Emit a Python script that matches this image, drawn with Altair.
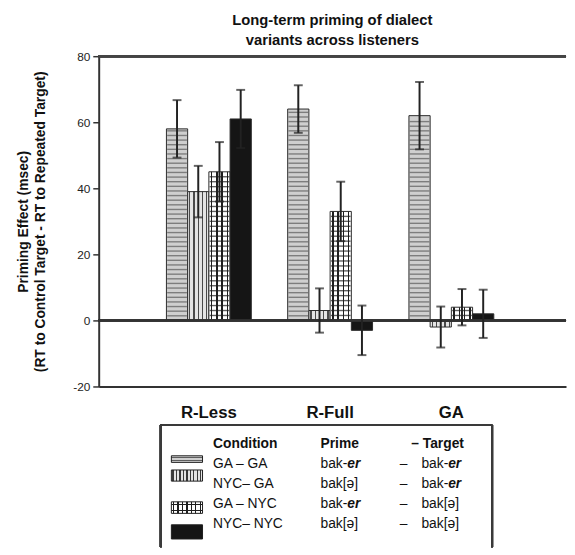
import altair as alt
import pandas as pd
import numpy as np

# ---------------- data ----------------
groups = ["R-Less", "R-Full", "GA"]
conditions = ["GA – GA", "NYC– GA", "GA – NYC", "NYC– NYC"]
primes = ["bak-er", "bak[ə]", "bak-er", "bak[ə]"]
targets = ["bak-er", "bak-er", "bak[ə]", "bak[ə]"]

effect_rless = [58, 39, 45, 61]
effect_rfull = [64, 3, 33, -3]
effect_ga = [62, -2, 4, 2]
err_rless = [8.7, 7.8, 9.0, 8.8]
err_rfull = [7.2, 6.7, 9.0, 7.5]
err_ga = [10.2, 6.2, 5.5, 7.3]

y_ticks = [-20, 0, 20, 40, 60, 80]
title_lines = ["Long-term priming of dialect", "variants across listeners"]
y_title = ["Priming Effect (msec)", "(RT to Control Target - RT to Repeated Target)"]
legend_header = ["Condition", "Prime", "–", "Target"]

# ---------------- layout / style ----------------
FONT = "Liberation Sans"
INK = "#111111"
LINE = "#333333"
W, H = 474, 335

# legend layout (legend box pixel units)
LEG_X = {"sw0": 10.7, "sw1": 42.3, "cond": 53, "prime": 162, "dash": 242.3,
         "target": 264.3, "hdash": 254, "htarget": 265.7, "right": 336}
LEG_ROWS = [19, 39.4, 59.8, 80.2, 100.6]
SW_Y = [(31.3, 38), (45.7, 57), (78, 89.7), (101.3, 115.7)]
LEG_BOTTOM = 124
BAKW = 27.2  # width of "bak-" at 14px

rows = []
for g, vals, errs in [(groups[0], effect_rless, err_rless),
                      (groups[1], effect_rfull, err_rfull),
                      (groups[2], effect_ga, err_ga)]:
    for c, v, e in zip(conditions, vals, errs):
        rows.append({"group": g, "cond": c, "value": v, "err": e,
                     "lo": v - e, "hi": v + e})
df = pd.DataFrame(rows)

# horizontal hatch lines derived from the bar values
hatch_step = {conditions[0]: 1.4, conditions[2]: 1.5}
hrows = []
for r in rows:
    if r["cond"] in hatch_step:
        s = hatch_step[r["cond"]]
        for lev in np.arange(s, r["value"] - s * 0.4, s):
            hrows.append({"group": r["group"], "cond": r["cond"], "level": float(lev)})
hdf = pd.DataFrame(hrows)


def stripe_grad(n, bg, fg, frac, vertical=True):
    stops = []
    for i in range(n):
        a = i / n
        c0 = (i + 0.5 - frac / 2) / n
        c1 = (i + 0.5 + frac / 2) / n
        stops += [(a, bg), (c0, bg), (c0, fg), (c1, fg), (c1, bg)]
    stops.append((1.0, bg))
    kw = dict(x1=0, y1=0, x2=1, y2=0) if vertical else dict(x1=0, y1=0, x2=0, y2=1)
    return alt.Gradient(gradient="linear",
                        stops=[alt.GradientStop(color=c, offset=round(o, 4)) for o, c in stops],
                        **kw)


XS = alt.Scale(domain=groups, paddingInner=0.3, paddingOuter=0.577, align=0.484)
XO = alt.Scale(domain=conditions, paddingInner=0, paddingOuter=0)
YS = alt.Scale(domain=[-20, 80], nice=False, zero=False)

x_axis = alt.Axis(title=None, labelAngle=0, ticks=False, labelFont=FONT, labelFontSize=17,
                  labelFontWeight="bold", labelColor=INK, labelPadding=18,
                  domainColor=LINE, domainWidth=2)
y_axis = alt.Axis(title=y_title, values=y_ticks, grid=False, tickSize=6, tickWidth=1.5,
                  tickColor=LINE, domainColor=LINE, domainWidth=2, labelFont=FONT,
                  labelFontSize=12, labelColor="#222222", labelPadding=3,
                  labelExpr="'' + datum.value",
                  titleFont=FONT, titleFontSize=14, titleFontWeight="bold",
                  titleColor=INK, titlePadding=26, titleLineHeight=17)


def X():
    return alt.X("group:N", scale=XS, axis=x_axis, sort=groups)


def XOff():
    return alt.XOffset("cond:N", scale=XO, sort=conditions)


def Y(field):
    return alt.Y(field, type="quantitative", scale=YS, axis=y_axis)


base = alt.Chart(df)

fills = {
    conditions[0]: "#cfcfcf",
    conditions[1]: stripe_grad(5, "#e4e4e4", "#4a4a4a", 0.32),
    conditions[2]: stripe_grad(4, "#ffffff", "#1e1e1e", 0.28),
    conditions[3]: "#151515",
}

bar_layers = []
for c in conditions:
    bar_layers.append(
        base.transform_filter(alt.FieldEqualPredicate(field="cond", equal=c))
        .mark_bar(fill=fills[c], stroke="#2b2b2b", strokeWidth=1)
        .encode(x=X(), xOffset=XOff(), y=Y("value"), y2=alt.Y2(datum=0))
    )

hatch_colors = {conditions[0]: "#5a5a5a", conditions[2]: "#1e1e1e"}
hatch_layers = []
for c, col in hatch_colors.items():
    hatch_layers.append(
        alt.Chart(hdf).transform_filter(alt.FieldEqualPredicate(field="cond", equal=c))
        .mark_tick(orient="horizontal", size=20, thickness=1.4, color=col)
        .encode(x=X(), xOffset=XOff(), y=Y("level"))
    )

zero_rule = base.mark_rule(color=LINE, strokeWidth=1.5).encode(y=alt.Y(datum=0, scale=YS, axis=y_axis))
top_rule = base.mark_rule(color="#444444", strokeWidth=2).encode(y=alt.Y(datum=80, scale=YS, axis=y_axis))

err_rule = base.mark_rule(color="#222222", strokeWidth=2).encode(
    x=X(), xOffset=XOff(), y=Y("lo"), y2="hi:Q")
err_lo = base.mark_tick(orient="horizontal", size=9, thickness=2, color="#222222").encode(
    x=X(), xOffset=XOff(), y=Y("lo"))
err_hi = base.mark_tick(orient="horizontal", size=9, thickness=2, color="#222222").encode(
    x=X(), xOffset=XOff(), y=Y("hi"))

main = alt.layer(*bar_layers, *hatch_layers, zero_rule, top_rule, err_rule, err_lo, err_hi)

# ---------------- custom legend ----------------
LXS = alt.Scale(domain=[0, 336], range=[63, 399], nice=False, zero=False)
LYS = alt.Scale(domain=[0, 100], range=[374, 474], nice=False, zero=False)


def LX(field=None, datum=None):
    if datum is not None:
        return alt.X(datum=datum, scale=LXS, axis=None)
    return alt.X(field, type="quantitative", scale=LXS, axis=None)


def LY(field=None, datum=None):
    if datum is not None:
        return alt.Y(datum=datum, scale=LYS, axis=None)
    return alt.Y(field, type="quantitative", scale=LYS, axis=None)


trows = []
hx = [LEG_X["cond"], LEG_X["prime"], LEG_X["hdash"], LEG_X["htarget"]]
for t, x in zip(legend_header, hx):
    trows.append({"t": t, "lx": x, "ly": LEG_ROWS[0], "style": "bold"})


def add_word(word, x, y):
    if word.endswith("-er"):
        trows.append({"t": word[:-2], "lx": x, "ly": y, "style": "normal"})
        trows.append({"t": word[-2:], "lx": x + BAKW, "ly": y, "style": "bi"})
    else:
        trows.append({"t": word, "lx": x, "ly": y, "style": "normal"})


for i, (c, p, t) in enumerate(zip(conditions, primes, targets)):
    y = LEG_ROWS[i + 1]
    trows.append({"t": c, "lx": LEG_X["cond"], "ly": y, "style": "normal"})
    add_word(p, LEG_X["prime"], y)
    trows.append({"t": "–", "lx": LEG_X["dash"], "ly": y, "style": "normal"})
    add_word(t, LEG_X["target"], y)
tdf = pd.DataFrame(trows)

text_layers = []
for style, weight, fstyle in [("normal", "normal", "normal"), ("bold", "bold", "normal"),
                              ("bi", "bold", "italic")]:
    text_layers.append(
        alt.Chart(tdf).transform_filter(alt.FieldEqualPredicate(field="style", equal=style))
        .mark_text(align="left", baseline="middle", font=FONT, fontSize=14,
                   fontWeight=weight, fontStyle=fstyle, color=INK)
        .encode(x=LX("lx"), y=LY("ly"), text="t:N")
    )

sdf = pd.DataFrame({"cond": conditions,
                    "x0": [LEG_X["sw0"]] * 4, "x1": [LEG_X["sw1"]] * 4,
                    "y0": [a for a, b in SW_Y], "y1": [b for a, b in SW_Y]})
sw_fills = [
    [stripe_grad(2, "#cfcfcf", "#5e5e5e", 0.35, vertical=False)],
    [stripe_grad(9, "#e4e4e4", "#3a3a3a", 0.35)],
    [stripe_grad(7, "#ffffff", "#1e1e1e", 0.28),
     stripe_grad(2, "rgba(0,0,0,0)", "#1e1e1e", 0.25, vertical=False)],
    ["#151515"],
]
sw_layers = []
for c, fl in zip(conditions, sw_fills):
    for k, f in enumerate(fl):
        sw_layers.append(
            alt.Chart(sdf).transform_filter(alt.FieldEqualPredicate(field="cond", equal=c))
            .mark_rect(fill=f, stroke="#1e1e1e" if k == 0 else None, strokeWidth=1)
            .encode(x=LX("x0"), x2="x1:Q", y=LY("y0"), y2="y1:Q")
        )

frame_top = base.mark_rule(color="#3a3a3a", strokeWidth=2).encode(
    x=LX(datum=0), x2=alt.X2(datum=LEG_X["right"]), y=LY(datum=0))
frame_left = base.mark_rule(color="#3a3a3a", strokeWidth=2).encode(
    x=LX(datum=0), y=LY(datum=0), y2=alt.Y2(datum=LEG_BOTTOM))
frame_right = base.mark_rule(color="#3a3a3a", strokeWidth=2).encode(
    x=LX(datum=LEG_X["right"]), y=LY(datum=0), y2=alt.Y2(datum=LEG_BOTTOM))

legend = alt.layer(*sw_layers, *text_layers, frame_top, frame_left, frame_right)

chart = (
    alt.layer(main, legend)
    .resolve_scale(x="independent", y="independent")
    .properties(
        width=W, height=H,
        title=alt.Title(text=title_lines, font=FONT, fontSize=15, fontWeight="bold",
                        color=INK, anchor="middle", lineHeight=21, offset=2),
        padding={"left": 8, "top": 1, "right": 0, "bottom": 0},
    )
    .configure_view(stroke=None)
)

chart.save("out.html", embed_options={"renderer": "svg", "actions": False})
